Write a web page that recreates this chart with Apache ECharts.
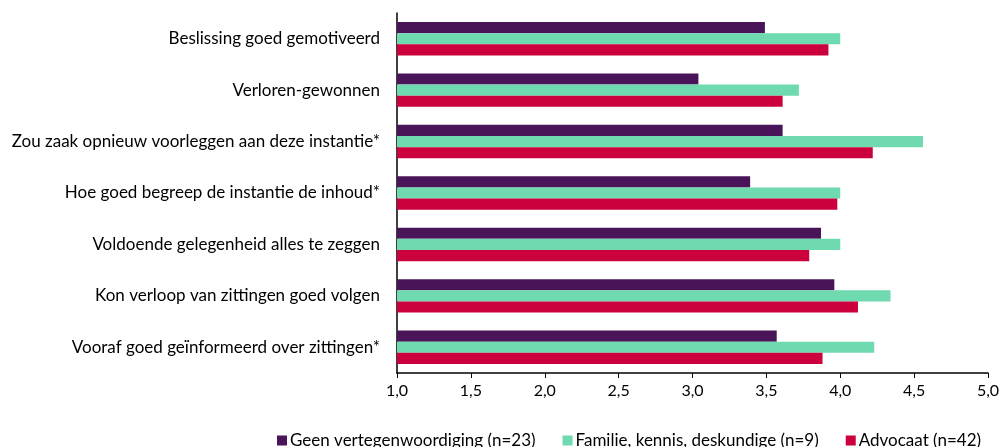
<!DOCTYPE html>
<html>
<head>
<meta charset="utf-8">
<script src="https://cdn.jsdelivr.net/npm/echarts@6/dist/echarts.min.js"></script>
<style>
  html, body { margin: 0; padding: 0; background: #fff; }
  #chart { width: 1004px; height: 447px; }
</style>
</head>
<body>
<div id="chart"></div>
<script>
// categories from top to bottom
const categories = [
  'Beslissing goed gemotiveerd',
  'Verloren-gewonnen',
  'Zou zaak opnieuw voorleggen aan deze instantie*',
  'Hoe goed begreep de instantie de inhoud*',
  'Voldoende gelegenheid alles te zeggen',
  'Kon verloop van zittingen goed volgen',
  'Vooraf goed geïnformeerd over zittingen*'
]
const seriesNames = ['Geen vertegenwoordiging (n=23)', 'Familie, kennis, deskundige (n=9)', 'Advocaat (n=42)']
const geenValues = [3.49, 3.04, 3.61, 3.39, 3.87, 3.96, 3.57]
const familieValues = [4.0, 3.72, 4.56, 4.0, 4.0, 4.34, 4.23]
const advocaatValues = [3.92, 3.61, 4.22, 3.98, 3.79, 4.12, 3.88]

const colors = ['#4a1558', '#6fd9b0', '#cc003d']
const font = 'Lato, "Open Sans", sans-serif'

let myChart = echarts.init(document.getElementById('chart'))
let options = {
  animation: false,
  grid: { left: 397, right: 16, top: 13, bottom: 74 },
  legend: {
    left: 272,
    top: 427,
    itemWidth: 10,
    itemHeight: 10,
    itemGap: 27,
    icon: 'rect',
    textStyle: { fontFamily: font, fontSize: 17, color: '#000', padding: [0, 0, 0, -2] },
    data: seriesNames
  },
  xAxis: {
    type: 'value',
    min: 1,
    max: 5,
    interval: 0.5,
    axisLine: { show: true, lineStyle: { color: '#000', width: 1.5 } },
    axisTick: { show: true, length: 5, lineStyle: { color: '#000' } },
    splitLine: { show: false },
    axisLabel: {
      fontFamily: font,
      fontSize: 16,
      color: '#000',
      margin: 10,
      formatter: function (v) { return v.toFixed(1).replace('.', ',') }
    }
  },
  yAxis: {
    type: 'category',
    inverse: true,
    data: categories,
    axisLine: { show: true, lineStyle: { color: '#000', width: 1.5 } },
    axisTick: { show: false },
    axisLabel: { fontFamily: font, fontSize: 17, color: '#000', margin: 17 }
  },
  series: [
    { name: seriesNames[0], type: 'bar', data: geenValues, itemStyle: { color: colors[0] }, barGap: '0%', barCategoryGap: '35%' },
    { name: seriesNames[1], type: 'bar', data: familieValues, itemStyle: { color: colors[1] }, barGap: '0%', barCategoryGap: '35%' },
    { name: seriesNames[2], type: 'bar', data: advocaatValues, itemStyle: { color: colors[2] }, barGap: '0%', barCategoryGap: '35%' }
  ]
}
myChart.setOption(options)
</script>
</body>
</html>
